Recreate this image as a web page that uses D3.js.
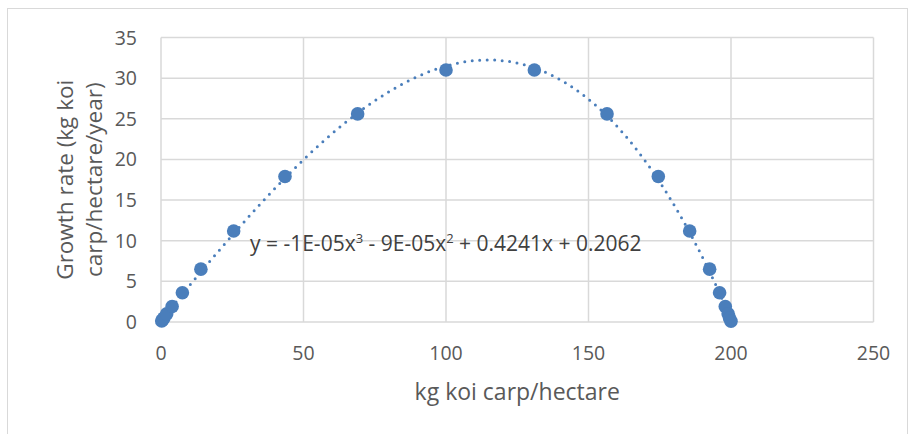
<!DOCTYPE html>
<html>

<head>
    <meta charset="utf-8">
    <style>
        body {
            margin: 0;
            background: white;
        }

        svg {
            display: block;
            font-family: 'Open Sans', sans-serif;
        }
    </style>
</head>

<body>
    <svg width="909" height="434"></svg>

    <script src="https://d3js.org/d3.v7.min.js"></script>
    <script>
        // kg koi carp / hectare
        let density = [0.25, 0.5, 1, 2, 3.9, 7.5, 14, 25.5, 43.5, 69, 100, 131, 156.5, 174.5, 185.5, 192.5, 196, 198, 199, 199.5, 200]
        // growth rate (kg koi carp/hectare/year)
        let growth = [0.12, 0.25, 0.5, 1, 1.9, 3.6, 6.5, 11.2, 17.9, 25.6, 31, 31, 25.6, 17.9, 11.2, 6.5, 3.6, 1.9, 1, 0.5, 0.1]

        let xTicks = [0, 50, 100, 150, 200, 250]
        let yTicks = [0, 5, 10, 15, 20, 25, 30, 35]

        let width = 909;
        let height = 434;
        let margin = { left: 161, right: 35.5, top: 37.5, bottom: 112 }

        let svg = d3.select("svg")

        // outer chart border
        svg.append("rect")
            .attr("x", 7.5)
            .attr("y", 8.5)
            .attr("width", 900)
            .attr("height", 440)
            .style("fill", "white")
            .style("stroke", "#d9d9d9")
            .style("stroke-width", 1)

        let x = d3.scaleLinear()
            .domain([0, 250])
            .range([margin.left, width - margin.right])

        let y = d3.scaleLinear()
            .domain([0, 35])
            .range([height - margin.bottom, margin.top])

        // gridlines
        svg.append("g")
            .selectAll("line")
            .data(yTicks)
            .join("line")
            .attr("x1", x(0))
            .attr("x2", x(250))
            .attr("y1", d => y(d))
            .attr("y2", d => y(d))
            .style("stroke", "#d9d9d9")
            .style("stroke-width", 1.5)

        svg.append("g")
            .selectAll("line")
            .data(xTicks)
            .join("line")
            .attr("x1", d => x(d))
            .attr("x2", d => x(d))
            .attr("y1", y(0))
            .attr("y2", y(35))
            .style("stroke", "#d9d9d9")
            .style("stroke-width", 1.5)

        // tick labels
        svg.append("g")
            .selectAll("text")
            .data(yTicks)
            .join("text")
            .attr("x", 137)
            .attr("y", d => y(d) + 7)
            .attr("text-anchor", "end")
            .style("font-size", "19.5px")
            .style("fill", "#595959")
            .text(d => d)

        svg.append("g")
            .selectAll("text")
            .data(xTicks)
            .join("text")
            .attr("x", d => x(d))
            .attr("y", 360)
            .attr("text-anchor", "middle")
            .style("font-size", "19.5px")
            .style("fill", "#595959")
            .text(d => d)

        // axis titles
        svg.append("text")
            .attr("x", (x(0) + x(250)) / 2)
            .attr("y", 400)
            .attr("text-anchor", "middle")
            .style("font-size", "23px")
            .style("fill", "#595959")
            .text("kg koi carp/hectare")

        let yTitle = svg.append("text")
            .attr("transform", "rotate(-90)")
            .attr("text-anchor", "middle")
            .style("font-size", "22.5px")
            .style("fill", "#595959")

        yTitle.append("tspan")
            .attr("x", -(y(0) + y(35)) / 2)
            .attr("y", 73)
            .text("Growth rate (kg koi")

        yTitle.append("tspan")
            .attr("x", -(y(0) + y(35)) / 2)
            .attr("y", 102)
            .text("carp/hectare/year)")

        // cubic least-squares trendline, as the spreadsheet does it
        function polyfit(xs, ys, order) {
            let n = order + 1
            let A = []
            for (let i = 0; i < n; i++) {
                A.push([])
                for (let j = 0; j <= n; j++) A[i].push(0)
            }
            xs.forEach((xv, k) => {
                for (let i = 0; i < n; i++) {
                    for (let j = 0; j < n; j++) A[i][j] += Math.pow(xv, i + j)
                    A[i][n] += Math.pow(xv, i) * ys[k]
                }
            })
            for (let i = 0; i < n; i++) {
                let p = i
                for (let r = i + 1; r < n; r++) if (Math.abs(A[r][i]) > Math.abs(A[p][i])) p = r
                let tmp = A[i]; A[i] = A[p]; A[p] = tmp
                for (let r = 0; r < n; r++) {
                    if (r == i) continue
                    let f = A[r][i] / A[i][i]
                    for (let c = i; c <= n; c++) A[r][c] -= f * A[i][c]
                }
            }
            return A.map((row, i) => row[n] / row[i])
        }

        let coef = polyfit(density, growth, 3)
        let xMin = d3.min(density), xMax = d3.max(density)
        let trend = d3.range(0, 201).map(i => {
            let xv = xMin + (xMax - xMin) * i / 200
            return [xv, coef[0] + coef[1] * xv + coef[2] * xv * xv + coef[3] * xv * xv * xv]
        })

        let line = d3.line()
            .x(d => x(d[0]))
            .y(d => y(d[1]))

        svg.append("path")
            .attr("d", line(trend))
            .style("fill", "none")
            .style("stroke", "#4a7ebb")
            .style("stroke-width", 3)
            .style("stroke-linecap", "round")
            .style("stroke-dasharray", "0,7.5")

        // points
        svg.append("g")
            .selectAll("circle")
            .data(density)
            .join("circle")
            .attr("cx", d => x(d))
            .attr("cy", (d, i) => y(growth[i]))
            .attr("r", 6.8)
            .style("fill", "#4a7ebb")

        // trendline equation
        let eq = svg.append("text")
            .attr("x", 250)
            .attr("y", 251)
            .style("font-size", "21px")
            .style("fill", "#404040")

        eq.append("tspan").text("y = -1E-05x")
        eq.append("tspan").attr("dy", -8).style("font-size", "13px").text("3")
        eq.append("tspan").attr("dy", 8).text(" - 9E-05x")
        eq.append("tspan").attr("dy", -8).style("font-size", "13px").text("2")
        eq.append("tspan").attr("dy", 8).text(" + 0.4241x + 0.2062")
    </script>
</body>

</html>
